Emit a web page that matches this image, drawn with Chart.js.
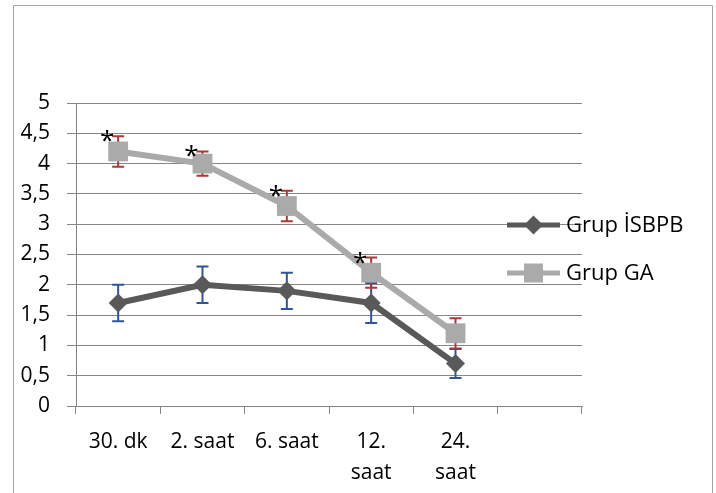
<!DOCTYPE html>
<html>
<head>
<meta charset="utf-8">
<script src="https://cdn.jsdelivr.net/npm/chart.js@4/dist/chart.umd.min.js"></script>
<style>
  html, body { margin: 0; padding: 0; background: #fff; }
  #wrap { width: 716px; height: 493px; }
</style>
</head>
<body>
<div id="wrap"><canvas id="chart" width="716" height="493"></canvas></div>
<script>
// categories (last slot is left empty in the original)
const categories = ['30. dk', '2. saat', '6. saat', ['12.', 'saat'], ['24.', 'saat'], ''];

const isbpbName = 'Grup İSBPB';
const isbpbValues = [1.7, 2.0, 1.9, 1.7, 0.7];
const isbpbErrors = [0.3, 0.3, 0.3, 0.33, 0.24];

const gaName = 'Grup GA';
const gaValues = [4.2, 4.0, 3.3, 2.2, 1.2];
const gaErrors = [0.25, 0.2, 0.25, 0.25, 0.25];
const gaMarks = ['*', '*', '*', '*', ''];

const yMin = 0;
const yMax = 5;
const yStep = 0.5;

const FONT = "'Open Sans', 'Noto Sans', sans-serif";
const darkGray = '#595959';
const lightGray = '#aaaaaa';
const axisGray = '#868686';

const errorColors = ['#2f5597', '#a83a38'];
const errorData = [isbpbErrors, gaErrors];

const frame = {
  id: 'frame',
  beforeDraw(chart) {
    const ctx = chart.ctx;
    ctx.save();
    ctx.fillStyle = '#fff';
    ctx.fillRect(0, 0, chart.width, chart.height);
    ctx.strokeStyle = '#a6a6a6';
    ctx.lineWidth = 1;
    ctx.beginPath();
    ctx.moveTo(13.5, chart.height);
    ctx.lineTo(13.5, 5.5);
    ctx.lineTo(712.5, 5.5);
    ctx.lineTo(712.5, chart.height);
    ctx.stroke();
    ctx.restore();
  }
};

const errorBars = {
  id: 'errorBars',
  beforeDatasetsDraw(chart) {
    const ctx = chart.ctx;
    const y = chart.scales.y;
    ctx.save();
    chart.data.datasets.forEach((ds, i) => {
      const meta = chart.getDatasetMeta(i);
      ctx.strokeStyle = errorColors[i];
      ctx.lineWidth = 2;
      meta.data.forEach((pt, j) => {
        const e = errorData[i][j];
        const top = y.getPixelForValue(ds.data[j] + e);
        const bot = y.getPixelForValue(ds.data[j] - e);
        ctx.beginPath();
        ctx.moveTo(pt.x, top);
        ctx.lineTo(pt.x, bot);
        ctx.moveTo(pt.x - 6, top);
        ctx.lineTo(pt.x + 6, top);
        ctx.moveTo(pt.x - 6, bot);
        ctx.lineTo(pt.x + 6, bot);
        ctx.stroke();
      });
    });
    ctx.restore();
  },
  afterDatasetsDraw(chart) {
    const ctx = chart.ctx;
    const y = chart.scales.y;
    const meta = chart.getDatasetMeta(1);
    ctx.save();
    ctx.fillStyle = '#000';
    ctx.font = '26px ' + FONT;
    ctx.textAlign = 'center';
    ctx.textBaseline = 'alphabetic';
    meta.data.forEach((pt, j) => {
      if (!gaMarks[j]) return;
      const top = y.getPixelForValue(gaValues[j] + gaErrors[j]);
      ctx.fillText(gaMarks[j], pt.x - 11, top - 1 + 14);
    });
    ctx.restore();
  }
};

const sideLegend = {
  id: 'sideLegend',
  afterDraw(chart) {
    const ctx = chart.ctx;
    const items = [
      { text: isbpbName, color: darkGray, shape: 'diamond', y: 225 },
      { text: gaName, color: lightGray, shape: 'square', y: 273 }
    ];
    ctx.save();
    items.forEach(it => {
      ctx.strokeStyle = it.color;
      ctx.fillStyle = it.color;
      ctx.lineWidth = 5;
      ctx.beginPath();
      ctx.moveTo(507, it.y);
      ctx.lineTo(560, it.y);
      ctx.stroke();
      const cx = 533.5;
      ctx.beginPath();
      if (it.shape === 'diamond') {
        ctx.moveTo(cx - 9.5, it.y);
        ctx.lineTo(cx, it.y - 9.5);
        ctx.lineTo(cx + 9.5, it.y);
        ctx.lineTo(cx, it.y + 9.5);
        ctx.closePath();
      } else {
        ctx.rect(cx - 9.5, it.y - 9.5, 19, 19);
      }
      ctx.fill();
      ctx.fillStyle = '#000';
      ctx.font = '22px ' + FONT;
      ctx.textAlign = 'left';
      ctx.textBaseline = 'middle';
      ctx.fillText(it.text, 566, it.y + 1);
    });
    ctx.restore();
  }
};

new Chart(document.getElementById('chart'), {
  type: 'line',
  data: {
    labels: categories,
    datasets: [
      {
        label: isbpbName,
        data: isbpbValues,
        borderColor: darkGray,
        backgroundColor: darkGray,
        borderWidth: 6,
        pointStyle: 'rectRot',
        pointRadius: 9.5,
        pointBorderWidth: 0,
        order: 2
      },
      {
        label: gaName,
        data: gaValues,
        borderColor: lightGray,
        backgroundColor: lightGray,
        borderWidth: 6,
        pointStyle: 'rect',
        pointRadius: 14,
        pointBorderWidth: 0,
        order: 1
      }
    ]
  },
  options: {
    responsive: false,
    animation: false,
    layout: { padding: { left: 0, right: 134, top: 103, bottom: 0 } },
    plugins: {
      legend: { display: false },
      tooltip: { enabled: false }
    },
    scales: {
      x: {
        offset: true,
        grid: {
          offset: true,
          drawOnChartArea: false,
          tickLength: 8,
          color: axisGray,
          lineWidth: 1
        },
        border: { color: axisGray, width: 1 },
        ticks: {
          maxRotation: 0,
          autoSkip: false,
          padding: 12,
          color: '#000',
          font: { family: FONT, size: 21, lineHeight: 1.5 }
        },
        afterFit(scale) { scale.height = 87; }
      },
      y: {
        min: yMin,
        max: yMax,
        grid: { color: axisGray, lineWidth: 1, tickLength: 9 },
        border: { color: axisGray, width: 1 },
        ticks: {
          stepSize: yStep,
          padding: 17,
          color: '#000',
          font: { family: FONT, size: 21 },
          callback: v => String(v).replace('.', ',')
        },
        afterFit(scale) { scale.width = 76; }
      }
    }
  },
  plugins: [frame, errorBars, sideLegend]
});
</script>
</body>
</html>
